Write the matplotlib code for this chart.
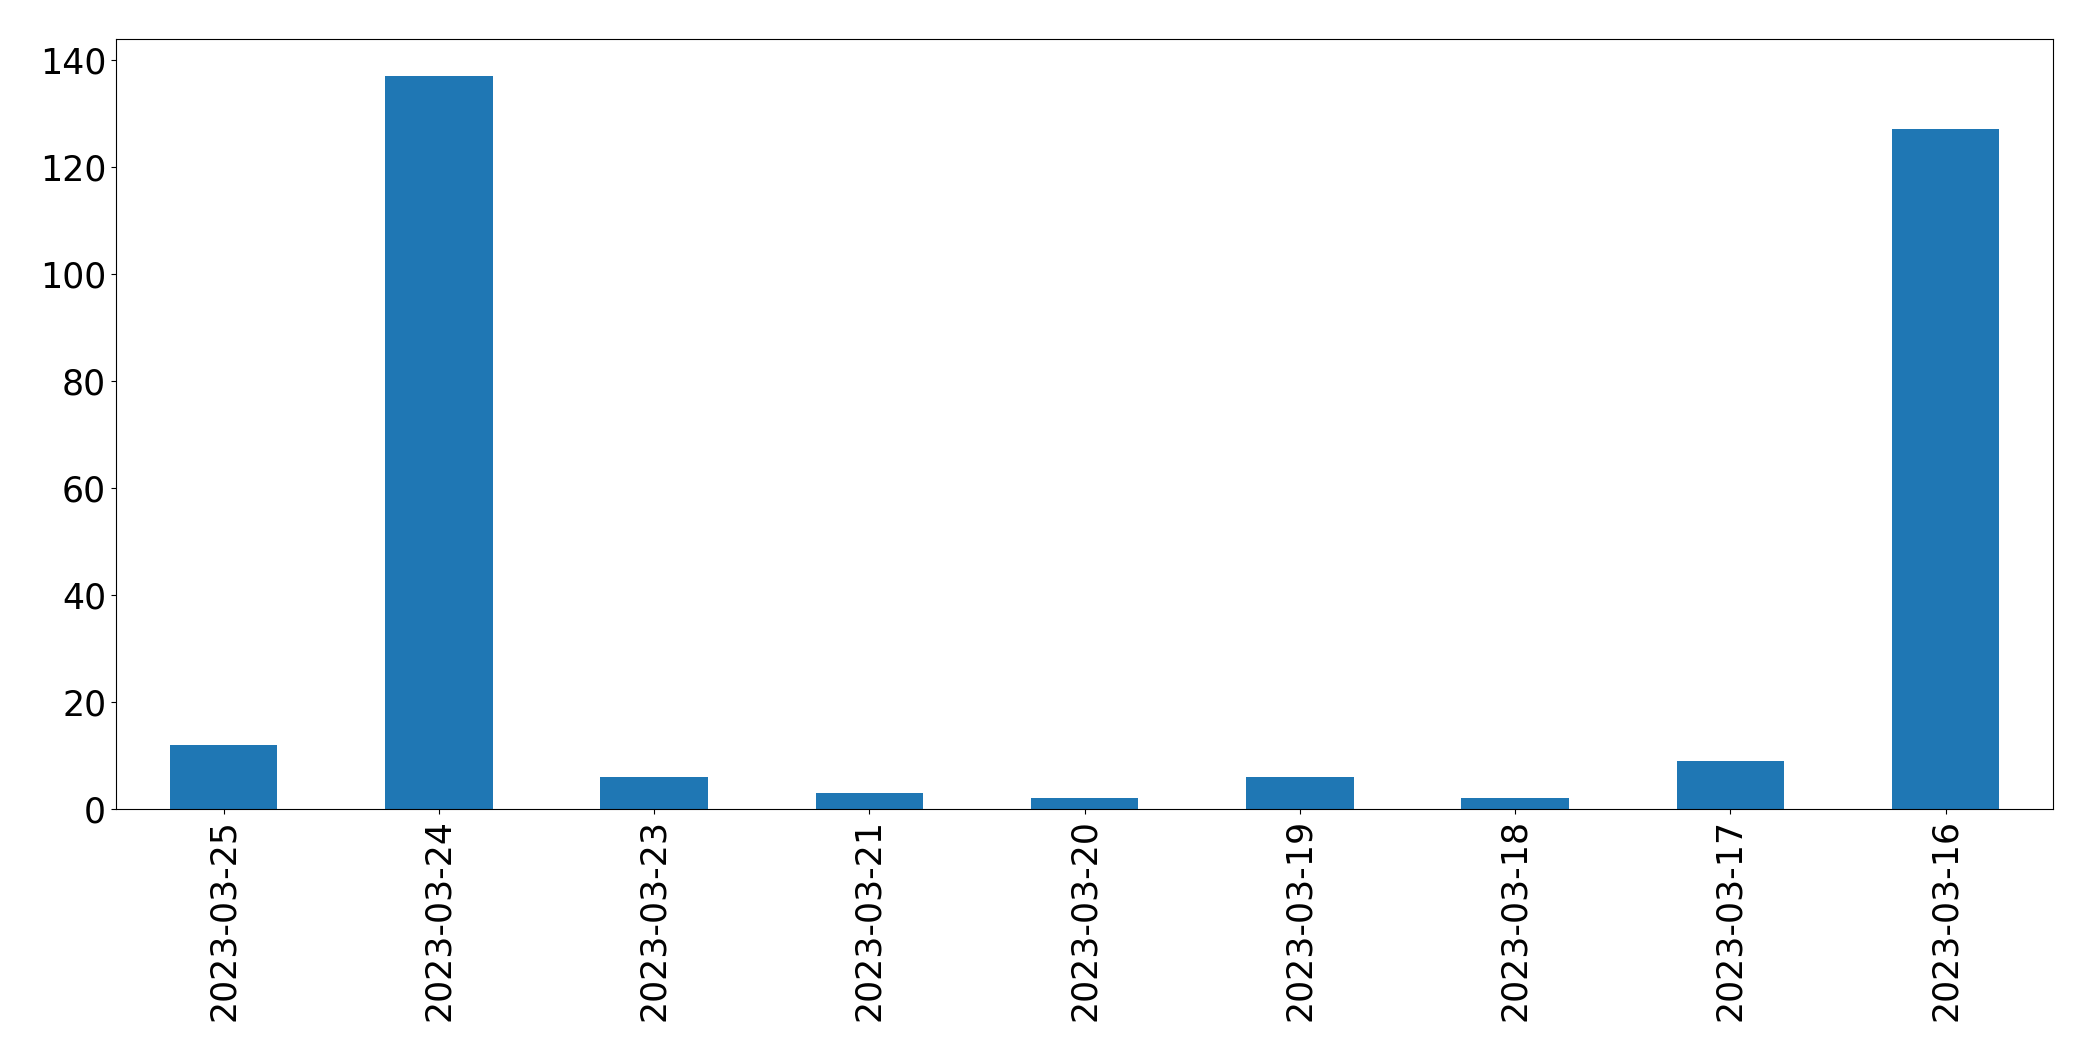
import matplotlib
matplotlib.use("Agg")
import matplotlib.pyplot as plt
import pandas as pd

dates = ["2023-03-25", "2023-03-24", "2023-03-23", "2023-03-21", "2023-03-20",
         "2023-03-19", "2023-03-18", "2023-03-17", "2023-03-16"]
counts = [12, 137, 6, 3, 2, 6, 2, 9, 127]

s = pd.Series(counts, index=dates)

fig, ax = plt.subplots(figsize=(20.93, 10.61), dpi=100)
s.plot(kind="bar", ax=ax, color="#1f77b4", fontsize=25)
ax.tick_params(axis="both", labelsize=25)

plt.subplots_adjust(left=0.0554, right=0.981, top=0.963, bottom=0.2375)
plt.savefig("out.png", dpi=100)
